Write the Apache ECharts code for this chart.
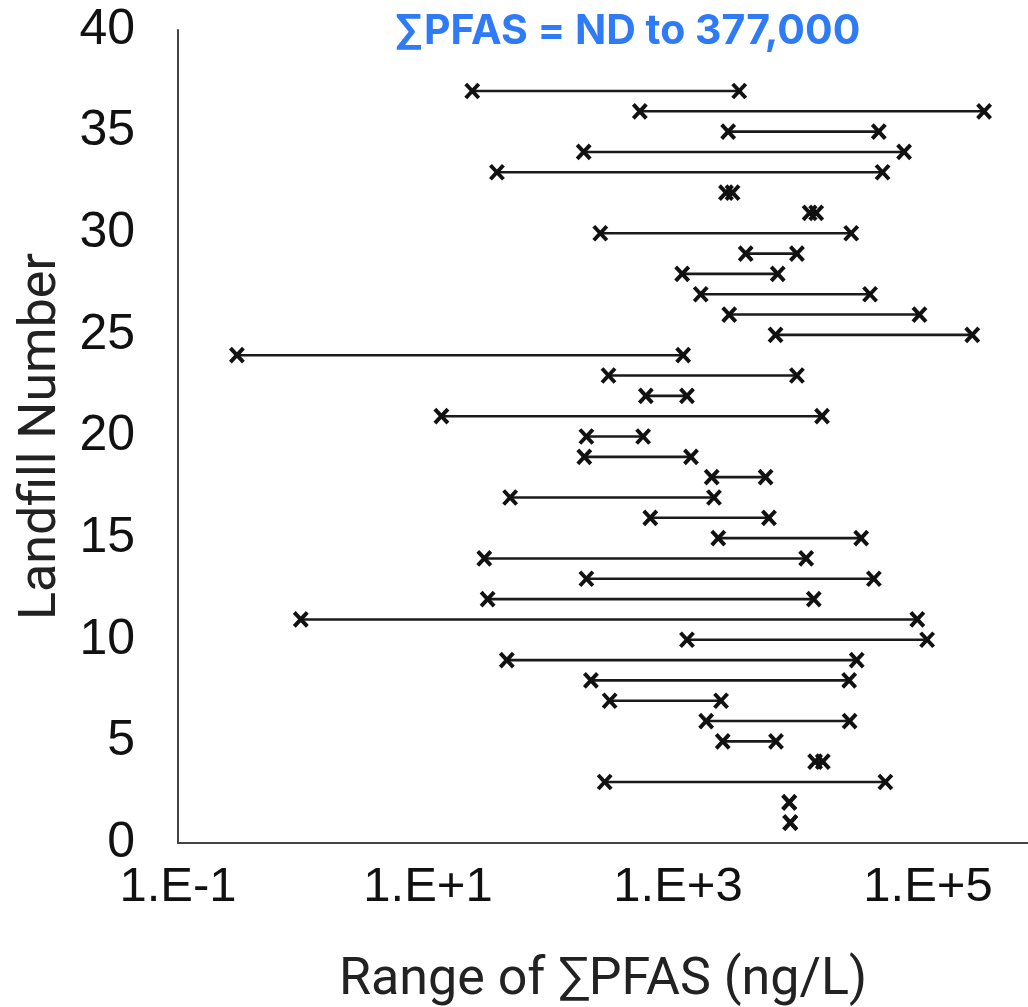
<!DOCTYPE html>
<html>
<head>
<meta charset="utf-8">
<script src="https://cdn.jsdelivr.net/npm/echarts@6/dist/echarts.min.js"></script>
<style>
html,body{margin:0;padding:0;background:#fff;}
#chart{width:1028px;height:1007px;}
</style>
</head>
<body>
<div id="chart"></div>
<script>
// Landfill numbers and range of ∑PFAS (ng/L)
const landfillNumbers = [1,2,3,4,5,6,7,8,9,10,11,12,13,14,15,16,17,18,19,20,21,22,23,24,25,26,27,28,29,30,31,32,33,34,35,36,37];
const minPFAS = [7910,7760,259,12500,2280,1680,284,201,42.7,1180,0.96,30,185,28.2,2100,600,45.4,1860,178,185,12.8,553,278,0.296,6030,2570,1520,1080,3480,239,11300,2420,35.6,176,2520,495,22.6];
const maxPFAS = [7910,7760,45600,14400,6080,23600,2210,23400,26900,98400,82100,12200,36900,10600,29200,5340,1940,5020,1270,526,14200,1180,8940,1100,226000,85500,34400,6280,8940,24300,12750,2730,43300,64400,40400,281000,3090];
const yTicks = [0,5,10,15,20,25,30,35,40];
const xLabelExponents = [-1,1,3,5];
const xMin = 0.1, xMax = 630957; // visible extent of the log axis

const chart = echarts.init(document.getElementById('chart'));
const rows = landfillNumbers.map((n,i)=>[minPFAS[i], maxPFAS[i], n]);

function xMark(cx, cy, style){
  const hw = 6.5, hh = 7;
  return [
    {type:'line', shape:{x1:cx-hw,y1:cy-hh,x2:cx+hw,y2:cy+hh}, style:style},
    {type:'line', shape:{x1:cx-hw,y1:cy+hh,x2:cx+hw,y2:cy-hh}, style:style}
  ];
}

const option = {
  animation:false,
  backgroundColor:'#fff',
  title:{
    text:'∑PFAS = ND to 377,000',
    left:622, top:6, textAlign:'center',
    textStyle:{color:'#2f7bf6', fontFamily:'Inter', fontWeight:'bold', fontSize:41}
  },
  grid:{left:178, top:30, right:0, bottom:164, containLabel:false, outerBoundsMode:'none'},
  xAxis:{
    type:'log', logBase:10, min:xMin, max:xMax,
    name:'Range of ∑PFAS (ng/L)', nameLocation:'middle', nameGap:112,
    nameTextStyle:{fontFamily:'Roboto', fontSize:52, color:'#222'},
    axisLine:{lineStyle:{color:'#444', width:2}},
    axisTick:{show:false},
    splitLine:{show:false},
    axisLabel:{
      fontFamily:'Liberation Sans', fontSize:49, color:'#111', margin:20,
      showMaxLabel:false,
      formatter:function(v){
        const e = Math.round(Math.log10(v));
        if (Math.abs(Math.log10(v) - e) > 0.01) return '';
        if (xLabelExponents.indexOf(e) < 0) return '';
        return '1.E' + (e < 0 ? '-' : '+') + Math.abs(e);
      }
    }
  },
  yAxis:{
    type:'value', min:yTicks[0], max:yTicks[yTicks.length-1], interval:5,
    name:'Landfill Number', nameLocation:'middle', nameGap:107, nameRotate:90,
    nameTextStyle:{fontFamily:'Roboto', fontSize:52, color:'#222'},
    axisLine:{show:true, lineStyle:{color:'#444', width:2}},
    axisTick:{show:false},
    splitLine:{show:false},
    axisLabel:{fontFamily:'Liberation Sans', fontSize:50, color:'#111', margin:43}
  },
  series:[{
    type:'custom',
    data:rows,
    encode:{x:[0,1], y:2},
    renderItem:function(params, api){
      const p1 = api.coord([api.value(0), api.value(2)]);
      const p2 = api.coord([api.value(1), api.value(2)]);
      const lineStyle = {stroke:'#1a1a1a', lineWidth:2.6};
      const mStyle = {stroke:'#111', lineWidth:3.9};
      const children = [
        {type:'line', shape:{x1:p1[0],y1:p1[1],x2:p2[0],y2:p2[1]}, style:lineStyle}
      ].concat(xMark(p1[0],p1[1],mStyle), xMark(p2[0],p2[1],mStyle));
      return {type:'group', children:children};
    }
  }]
};
chart.setOption(option);
</script>
</body>
</html>
